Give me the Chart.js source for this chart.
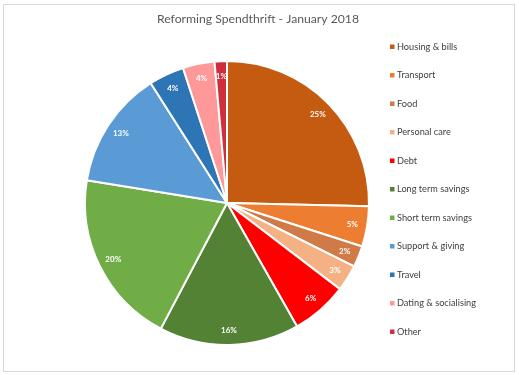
<!DOCTYPE html>
<html>
<head>
<meta charset="utf-8">
<script src="https://cdn.jsdelivr.net/npm/chart.js@4"></script>
<style>
  html, body { margin: 0; padding: 0; background: #fff; }
  #wrap { position: relative; width: 519px; height: 375px; }
  #frame { position: absolute; left: 3px; top: 4px; width: 510px; height: 366px; border: 1px solid #d9d9d9; box-sizing: content-box; }
  canvas { position: absolute; left: 0; top: 0; }
</style>
</head>
<body>
<div id="wrap">
  <div id="frame"></div>
  <canvas id="c" width="519" height="375"></canvas>
</div>
<script>
const titleText = "Reforming Spendthrift - January 2018";
const categories = ["Housing & bills", "Transport", "Food", "Personal care", "Debt", "Long term savings", "Short term savings", "Support & giving", "Travel", "Dating & socialising", "Other"];
const values = [25.3, 4.6, 2.4, 3.0, 6.4, 15.9, 19.8, 13.4, 4.0, 3.6, 1.4];
const colors = ["#C55A11", "#ED7D31", "#D07A48", "#F4B183", "#FF0000", "#548235", "#70AD47", "#5B9BD5", "#2E75B6", "#FF9999", "#CF2F3C"];

const FONT = "Lato, 'Open Sans', 'Liberation Sans', sans-serif";

const overlay = {
  id: 'overlay',
  afterDraw(chart) {
    const ctx = chart.ctx;
    ctx.save();
    // title
    ctx.fillStyle = '#595959';
    ctx.font = '12.2px ' + FONT;
    ctx.textAlign = 'center';
    ctx.textBaseline = 'middle';
    ctx.fillText(titleText, 258, 19);

    // slice labels
    const meta = chart.getDatasetMeta(0);
    const data = chart.data.datasets[0].data;
    const total = data.reduce((a, b) => a + b, 0);
    ctx.font = 'bold 8px ' + FONT;
    ctx.fillStyle = '#ffffff';
    meta.data.forEach((arc, i) => {
      const p = arc.getProps(['x', 'y', 'startAngle', 'endAngle', 'outerRadius'], true);
      const mid = (p.startAngle + p.endAngle) / 2;
      const r = p.outerRadius * 0.895;
      const pct = Math.round(data[i] / total * 100) + '%';
      ctx.fillText(pct, p.x + Math.cos(mid) * r, p.y + Math.sin(mid) * r);
    });

    // legend
    ctx.textAlign = 'left';
    ctx.font = '9.2px ' + FONT;
    const labels = chart.data.labels;
    const bg = chart.data.datasets[0].backgroundColor;
    labels.forEach((lab, i) => {
      const y = 47 + i * 28.5;
      ctx.fillStyle = bg[i];
      ctx.fillRect(390, y - 2.5, 4.5, 4.5);
      ctx.fillStyle = '#404040';
      ctx.fillText(lab, 397, y);
    });
    ctx.restore();
  }
};

new Chart(document.getElementById('c'), {
  type: 'pie',
  data: {
    labels: categories,
    datasets: [{
      data: values,
      backgroundColor: colors,
      borderColor: '#ffffff',
      borderWidth: 2
    }]
  },
  options: {
    responsive: false,
    animation: false,
    layout: { padding: { top: 60, bottom: 29, left: 84, right: 149 } },
    plugins: {
      legend: { display: false },
      title: { display: false },
      tooltip: { enabled: false }
    }
  },
  plugins: [overlay]
});
</script>
</body>
</html>
